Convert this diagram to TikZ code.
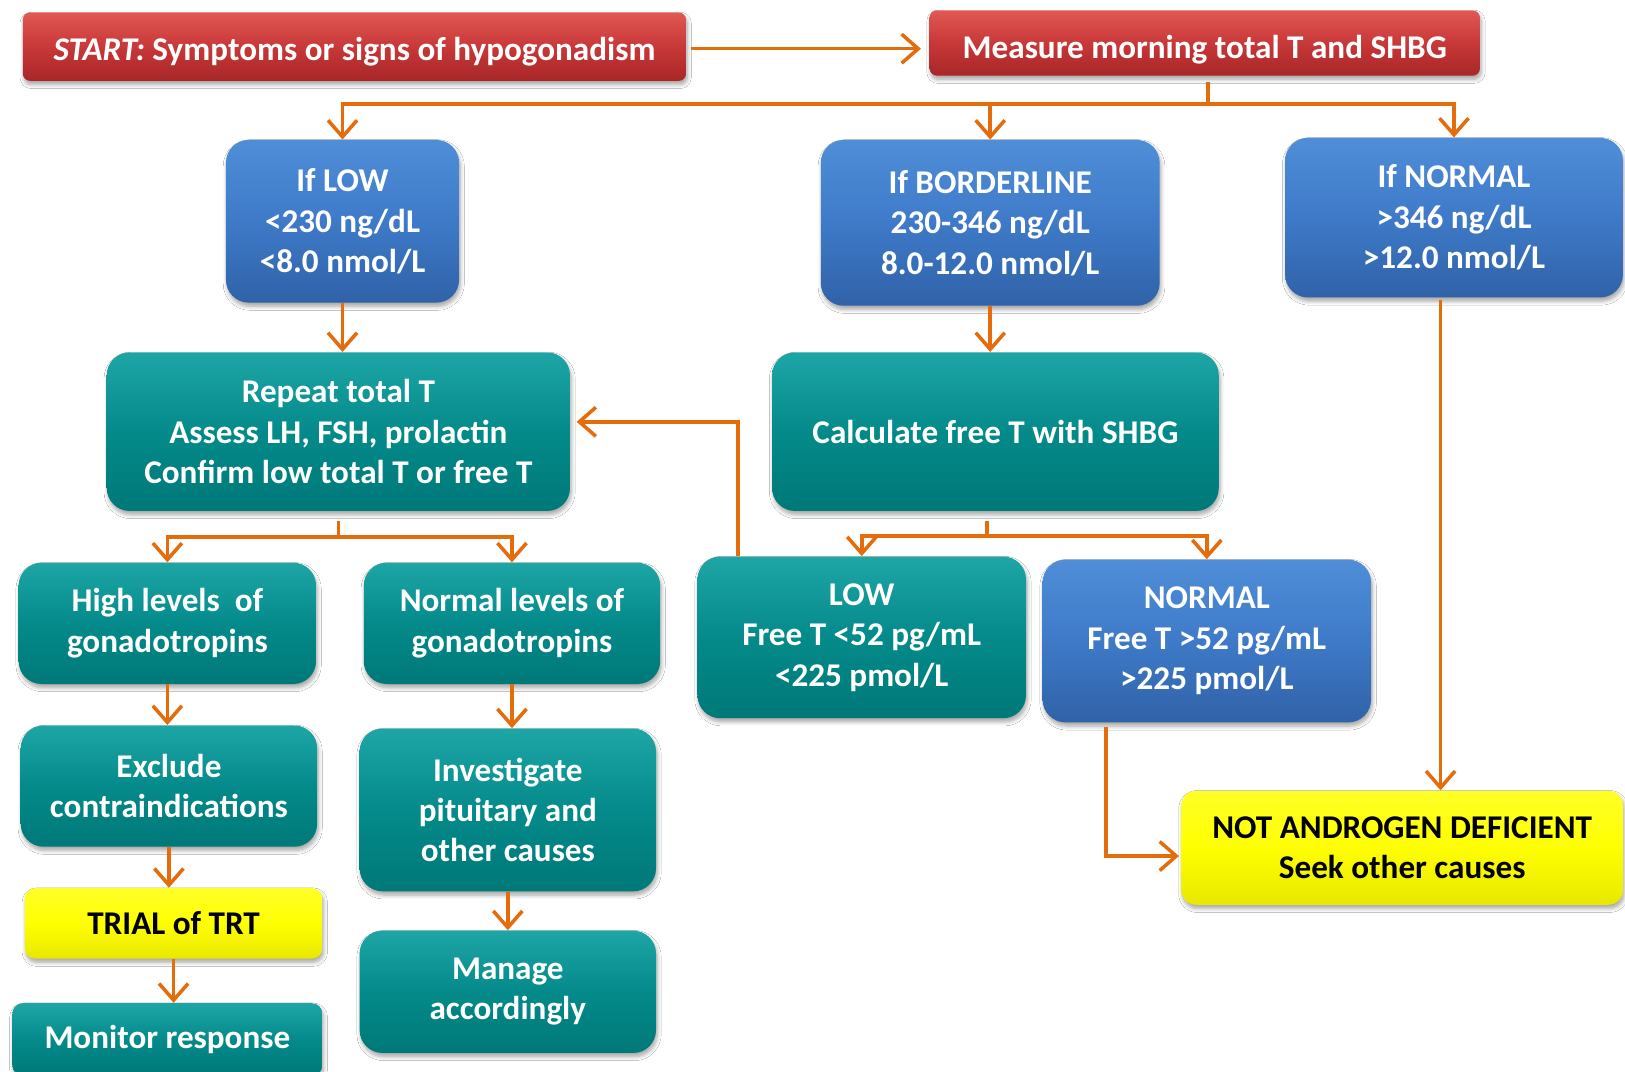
\documentclass[tikz,border=0pt]{standalone}
\usepackage{fontspec}
\setmainfont{Carlito}
\usetikzlibrary{arrows.meta,calc,shadows.blur}
\definecolor{orng}{RGB}{228,108,10}
\definecolor{redT}{RGB}{224,88,84}
\definecolor{redM}{RGB}{200,56,56}
\definecolor{redB}{RGB}{168,38,40}
\definecolor{blueT}{RGB}{80,142,216}
\definecolor{blueM}{RGB}{62,122,200}
\definecolor{blueB}{RGB}{48,98,168}
\definecolor{tealT}{RGB}{30,165,165}
\definecolor{tealM}{RGB}{4,138,138}
\definecolor{tealB}{RGB}{0,120,120}
\definecolor{yelT}{RGB}{255,255,40}
\definecolor{yelM}{RGB}{255,255,0}
\definecolor{yelB}{RGB}{232,232,0}
\begin{document}
\begin{tikzpicture}[x=0.5pt,y=-0.5pt,
  box/.style={align=center, text=white, inner sep=0pt,
    font=\bfseries\fontsize{16}{19.5}\selectfont, rounded corners=11pt,
    blur shadow={shadow xshift=0.6pt, shadow yshift=-1.8pt, shadow opacity=35, shadow blur steps=6}},
  redbox/.style={box, rounded corners=3.5pt, top color=redT, bottom color=redB, middle color=redM},
  bluebox/.style={box, top color=blueT, bottom color=blueB, middle color=blueM},
  tealbox/.style={box, top color=tealT, bottom color=tealB, middle color=tealM},
  yelbox/.style={box, text=black, top color=yelT, bottom color=yelB, middle color=yelM, rounded corners=5pt},
  ln/.style={draw=orng, line width=1.7pt},
  arr/.style={ln, -{Straight Barb[length=8pt,width=14pt]}},
]
\fill[white] (0,0) rectangle (1568,1034);
\useasboundingbox (0,0) rectangle (1568,1034);

% nodes
\node[redbox, minimum width=320pt, minimum height=33pt] (start) at (342,45)
  {\raisebox{-2.5pt}[\height][\depth]{\textit{START:} Symptoms or signs of hypogonadism}};
\node[redbox, minimum width=265.5pt, minimum height=31.5pt] (measure) at (1162.5,41.5)
  {\raisebox{-3pt}[\height][\depth]{Measure morning total T and SHBG}};

\node[bluebox, minimum width=112.5pt, minimum height=78.5pt] (iflow) at (330.5,213.5)
  {If LOW\\<230 ng/dL\\<8.0 nmol/L};
\node[bluebox, minimum width=163.5pt, minimum height=80pt] (ifborder) at (955.5,215)
  {If BORDERLINE\\230-346 ng/dL\\8.0-12.0 nmol/L};
\node[bluebox, minimum width=163pt, minimum height=77pt] (ifnormal) at (1403,210)
  {If NORMAL\\>346 ng/dL\\>12.0 nmol/L};

\node[tealbox, minimum width=223.5pt, minimum height=76.5pt] (repeat) at (326.5,416.5)
  {Repeat total T\\Assess LH, FSH, prolactin\\Confirm low total T or free T};
\node[tealbox, minimum width=215.5pt, minimum height=76.5pt] (calc) at (960.5,416.5)
  {Calculate free T with SHBG};

\node[tealbox, minimum width=143.5pt, minimum height=58.5pt] (high) at (161.5,601.5)
  {High levels\ \ of\\gonadotropins};
\node[tealbox, minimum width=143pt, minimum height=58.5pt] (normlev) at (494,601.5)
  {Normal levels of\\gonadotropins};
\node[tealbox, minimum width=158.5pt, minimum height=78pt] (low) at (831.5,615)
  {LOW\\Free T <52 pg/mL\\<225 pmol/L};
\node[bluebox, minimum width=158.5pt, minimum height=78.5pt] (normal) at (1164.5,618.5)
  {NORMAL\\Free T >52 pg/mL\\>225 pmol/L};

\node[tealbox, minimum width=143pt, minimum height=58.5pt] (exclude) at (163,758.5)
  {Exclude\\contraindications};
\node[yelbox, minimum width=143.5pt, minimum height=34pt] (trial) at (167.5,891)
  {TRIAL of TRT};
\node[tealbox, rounded corners=5pt, minimum width=149.5pt, minimum height=35pt] (monitor) at (161.5,1003)
  {Monitor response};

\node[tealbox, minimum width=143pt, minimum height=78.5pt] (invest) at (490,781.5)
  {Investigate\\pituitary and\\other causes};
\node[tealbox, minimum width=143pt, minimum height=59pt] (manage) at (490,957)
  {Manage\\accordingly};

\node[yelbox, rounded corners=7pt, minimum width=213pt, minimum height=55pt] (notand) at (1353,818)
  {NOT ANDROGEN DEFICIENT\\Seek other causes};

% connectors
\draw[arr] ($(start.east)+(4,2)$) -- ($(measure.west |- start.east)+(-8,2)$);

\coordinate (mb) at ($(measure.south)+(3,27)$);
\draw[ln] ($(measure.south)+(3,6)$) -- (mb);
\draw[arr] (mb) -| (iflow);
\draw[arr] (mb) -| (ifborder);
\draw[arr] (mb) -| (ifnormal);

\draw[arr] (iflow.south) -- (iflow.south |- repeat.north);
\draw[arr] (ifborder.south) -- (ifborder.south |- calc.north);

\coordinate (rb) at ($(repeat.south)+(0,25)$);
\draw[ln] ($(repeat.south)+(0,9)$) -- (rb);
\draw[arr] (rb) -| (high);
\draw[arr] (rb) -| (normlev);

\coordinate (cb) at ($(calc.south)+(-8,24)$);
\draw[ln] ($(calc.south)+(-8,9)$) -- (cb);
\draw[arr] (cb) -| (low);
\draw[arr] (cb) -| (normal);

\draw[arr] ($(low.north)+(-119.5,0)$) |- ($(repeat.east)+(6,-9.5)$);

\draw[arr] (high.south) -- (high.south |- exclude.north);
\draw[arr] (exclude.south) -- (exclude.south |- trial.north);
\draw[arr] (trial.south) -- (trial.south |- monitor.north);
\draw[arr] (normlev.south) -- (normlev.south |- invest.north);
\draw[arr] (invest.south) -- (invest.south |- manage.north);

\draw[arr] ($(ifnormal.south)+(-13,2)$) -- ($(ifnormal.south |- notand.north)+(-13,0)$);
\draw[arr] ($(normal.south)+(-97.5,4)$) |- ($(notand.west)+(-2,8)$);
\end{tikzpicture}
\end{document}
